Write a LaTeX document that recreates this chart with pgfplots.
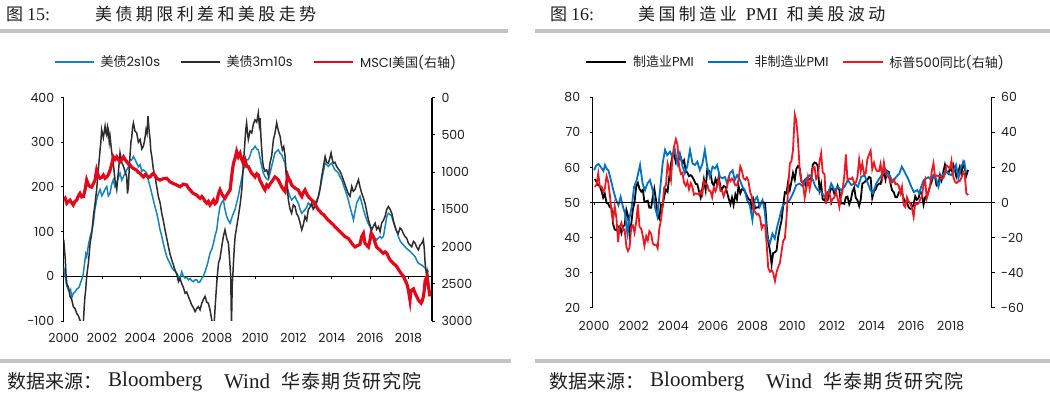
\documentclass[border=0pt]{standalone}
\usepackage{pgfplots}
\pgfplotsset{compat=1.18}
\usepackage{fontspec}
\setmainfont{Liberation Serif}
\newfontfamily\cjk{Noto Sans CJK SC}
\newfontfamily\gothic{Poppins}
\newcommand\ls{\hspace{3.4pt}}
\definecolor{lblue}{RGB}{22,132,185}
\definecolor{ldark}{RGB}{45,45,45}
\definecolor{lred}{RGB}{226,8,28}
\definecolor{rblue}{RGB}{0,112,192}
\definecolor{rred}{RGB}{235,25,35}
\definecolor{barg}{RGB}{195,195,195}
\definecolor{txt}{RGB}{30,30,30}
\pgfplotsset{
  base/.style={
    scale only axis, anchor=south west,
    tick label style={font=\gothic\fontsize{12.5}{14}\selectfont, text=txt},
    /pgf/number format/1000 sep={},
    /pgf/number format/assume math mode=true,
    major tick length=3pt,
    tick style={black, line width=0.9pt},
    axis line style={black, line width=1.1pt},
    xtick align=outside, ytick align=outside,
    hide obscured x ticks=false,
    legend columns=3,
    legend image code/.code={\draw[##1] (0pt,0pt) -- (39pt,0pt);},
    legend style={draw=none, fill=none, inner sep=0pt, anchor=west,
      font=\gothic\fontsize{13}{15}\selectfont, text=txt,
      nodes={inner sep=0pt},
      /tikz/every odd column/.append style={column sep=6pt},
      /tikz/every even column/.append style={column sep=20pt}},
  }
}
\begin{document}
\begin{tikzpicture}[x=1pt,y=1pt]
\path[use as bounding box] (0,0) rectangle (1050,399);
% rules
\fill[barg] (0,366) rectangle (508,370);
\fill[barg] (535,366) rectangle (1050,370);
\fill[barg] (0,36) rectangle (511,40);
\fill[barg] (535,36) rectangle (1050,40);
% titles
\node[anchor=west, inner sep=0, text=txt] at (6,385) {{\cjk\fontsize{17}{17}\selectfont 图}\hspace{4pt}{\fontsize{18}{18}\selectfont 15:}};
\node[anchor=west, inner sep=0, text=txt] at (95,385) {\cjk\fontsize{17}{17}\selectfont 美\ls 债\ls 期\ls 限\ls 利\ls 差\ls 和\ls 美\ls 股\ls 走\ls 势};
\node[anchor=west, inner sep=0, text=txt] at (550,385) {{\cjk\fontsize{17}{17}\selectfont 图}\hspace{4pt}{\fontsize{18}{18}\selectfont 16:}};
\node[anchor=west, inner sep=0, text=txt] at (638,385) {{\cjk\fontsize{17}{17}\selectfont 美\ls 国\ls 制\ls 造\ls 业}\hspace{9pt}{\fontsize{18}{18}\selectfont PMI}\hspace{9pt}{\cjk\fontsize{17}{17}\selectfont 和\ls 美\ls 股\ls 波\ls 动}};
% footers
\foreach \dx in {0,542}{
\node[anchor=west, inner sep=0, text=txt] at (7+\dx,18) {\cjk\fontsize{19}{19}\selectfont 数据来源：};
\node[anchor=west, inner sep=0, text=txt] at (108+\dx,18) {\fontsize{21}{20}\selectfont Bloomberg};
\node[anchor=west, inner sep=0, text=txt] at (224+\dx,18) {\fontsize{21}{20}\selectfont Wind};
\node[anchor=west, inner sep=0, text=txt] at (281+\dx,18) {\cjk\fontsize{19}{19}\selectfont 华\hspace{1.3pt}泰\hspace{1.3pt}期\hspace{1.3pt}货\hspace{1.3pt}研\hspace{1.3pt}究\hspace{1.3pt}院};
}

% ================= LEFT PANEL =================
\begin{axis}[base,
  at={(63.7pt,78pt)}, width=368.3pt, height=223.5pt,
  xmin=2000, xmax=2019.23, ymin=-100, ymax=400,
  axis y line*=left, axis x line*=middle,
  xtick={2000,2002,...,2018}, ytick={-100,0,...,400},
  x axis line style={line width=0.9pt},
  xticklabel style={anchor=center, yshift=-59pt},
  yticklabel style={xshift=-3pt},
  legend style={at={(-0.0263,1.1588)}},
]
\addplot[lblue, line width=1.5pt] coordinates {
(2000.00,20)(2000.08,0)(2000.15,-20)(2000.22,-28)(2000.30,-35)(2000.36,-30)(2000.42,-48)(2000.50,-38)(2000.60,-35)(2000.70,-28)(2000.80,-25)(2000.90,-12)
(2001.00,0)(2001.08,25)(2001.15,50)(2001.20,44)(2001.29,70)(2001.38,89)(2001.46,100)(2001.55,119)(2001.63,150)(2001.72,171)(2001.81,185)(2001.90,194)(2001.99,180)
(2002.07,186)(2002.16,195)(2002.25,201)(2002.33,180)(2002.42,186)(2002.50,205)(2002.59,216)(2002.68,200)(2002.77,208)(2002.85,220)(2002.94,231)
(2003.03,215)(2003.12,223)(2003.20,230)(2003.29,238)(2003.38,245)(2003.46,261)(2003.55,260)(2003.64,268)(2003.72,262)(2003.81,253)(2003.90,245)(2003.99,250)
(2004.08,235)(2004.16,238)(2004.25,235)(2004.33,231)(2004.42,215)(2004.51,201)(2004.60,185)(2004.68,171)(2004.77,155)(2004.86,141)(2004.94,125)
(2005.03,104)(2005.12,90)(2005.20,74)(2005.29,58)(2005.38,44)(2005.47,35)(2005.55,29)(2005.64,20)(2005.73,14)(2005.81,12)(2005.90,7)(2005.99,0)
(2006.07,-8)(2006.16,10)(2006.25,0)(2006.34,-4)(2006.42,-2)(2006.51,-8)(2006.60,-5)(2006.68,-10)(2006.77,-12)(2006.86,-8)(2006.95,-8)
(2007.03,-14)(2007.12,-12)(2007.21,-5)(2007.29,0)(2007.38,10)(2007.47,22)(2007.55,35)(2007.64,52)(2007.73,60)(2007.82,74)(2007.90,90)(2007.99,104)
(2008.08,135)(2008.16,156)(2008.25,165)(2008.34,171)(2008.42,150)(2008.51,134)(2008.60,125)(2008.69,119)(2008.77,130)(2008.86,141)(2008.95,150)
(2009.03,164)(2009.12,180)(2009.21,201)(2009.30,220)(2009.38,238)(2009.47,250)(2009.56,261)(2009.64,261)(2009.73,270)(2009.82,283)(2009.90,285)(2009.99,291)
(2010.08,285)(2010.16,283)(2010.25,265)(2010.34,246)(2010.42,232)(2010.51,223)(2010.60,218)(2010.69,216)(2010.77,230)(2010.86,246)(2010.95,262)
(2011.03,276)(2011.12,280)(2011.21,283)(2011.30,275)(2011.38,272)(2011.47,262)(2011.56,253)(2011.63,225)(2011.70,194)(2011.80,180)(2011.90,171)(2011.99,175)
(2012.08,179)(2012.16,170)(2012.25,164)(2012.34,150)(2012.43,141)(2012.51,145)(2012.60,149)(2012.69,155)(2012.77,164)(2012.86,160)(2012.95,156)
(2013.03,160)(2013.12,164)(2013.21,170)(2013.30,179)(2013.38,195)(2013.47,216)(2013.56,235)(2013.65,253)(2013.73,250)(2013.82,246)(2013.90,250)(2013.99,253)
(2014.08,245)(2014.16,238)(2014.25,235)(2014.34,231)(2014.43,222)(2014.52,216)(2014.60,205)(2014.69,194)(2014.78,182)(2014.86,171)(2014.95,155)
(2015.04,141)(2015.13,126)(2015.21,145)(2015.30,164)(2015.39,172)(2015.47,179)(2015.56,165)(2015.65,149)(2015.73,138)(2015.82,126)(2015.90,118)(2015.99,111)
(2016.08,100)(2016.17,89)(2016.26,85)(2016.34,81)(2016.43,86)(2016.52,89)(2016.60,85)(2016.69,89)(2016.78,110)(2016.87,134)(2016.95,141)
(2017.04,138)(2017.13,134)(2017.21,122)(2017.30,111)(2017.39,100)(2017.47,89)(2017.56,80)(2017.65,74)(2017.74,70)(2017.82,66)(2017.91,62)
(2018.00,59)(2018.08,56)(2018.17,52)(2018.26,48)(2018.35,44)(2018.43,36)(2018.52,29)(2018.61,27)(2018.70,25)(2018.78,22)(2018.87,18)(2018.95,14)(2019.04,10)
};
\addlegendentry{{\cjk 美债}2s10s}
\addplot[ldark, line width=1.5pt] coordinates {
(2000.00,82)(2000.04,60)(2000.08,40)(2000.12,5)(2000.16,-16)(2000.25,-25)(2000.33,-45)(2000.42,-52)(2000.50,-68)(2000.59,-72)(2000.68,-83)(2000.76,-88)(2000.85,-98)(2000.95,-110)
(2001.03,-100)(2001.07,-70)(2001.11,-45)(2001.15,-30)(2001.20,0)(2001.29,30)(2001.38,74)(2001.46,95)(2001.55,134)(2001.63,160)(2001.72,194)(2001.81,240)(2001.90,283)(2001.94,300)(2001.98,328)
(2002.07,310)(2002.16,336)(2002.21,320)(2002.25,315)(2002.29,335)(2002.33,328)(2002.38,300)(2002.42,313)(2002.50,280)(2002.59,253)(2002.68,215)(2002.77,194)(2002.81,215)(2002.85,231)(2002.90,255)(2002.94,276)
(2003.03,255)(2003.12,246)(2003.20,235)(2003.29,223)(2003.33,185)(2003.38,201)(2003.42,240)(2003.46,268)(2003.51,300)(2003.55,310)(2003.60,335)(2003.64,343)(2003.72,325)(2003.81,321)(2003.90,300)(2003.99,306)
(2004.08,285)(2004.16,291)(2004.23,305)(2004.30,328)(2004.35,320)(2004.40,358)(2004.45,330)(2004.51,306)(2004.55,280)(2004.60,268)(2004.68,240)(2004.77,223)(2004.86,200)(2004.94,179)
(2005.03,165)(2005.12,141)(2005.20,125)(2005.29,104)(2005.38,85)(2005.47,66)(2005.55,50)(2005.64,37)(2005.73,25)(2005.81,14)(2005.90,5)(2005.99,-12)
(2006.07,-5)(2006.16,-16)(2006.25,-25)(2006.34,-38)(2006.42,-35)(2006.51,-45)(2006.60,-55)(2006.68,-64)(2006.77,-70)(2006.86,-79)(2006.95,-72)
(2007.03,-68)(2007.12,-75)(2007.21,-60)(2007.29,-52)(2007.38,-45)(2007.47,-58)(2007.55,-60)(2007.64,-75)(2007.73,-98)(2007.79,-105)(2007.85,-110)(2007.92,-60)(2007.99,-16)
(2008.04,10)(2008.08,29)(2008.16,40)(2008.25,66)(2008.34,90)(2008.42,104)(2008.51,85)(2008.60,74)(2008.66,40)(2008.72,0)(2008.76,-110)(2008.80,-20)(2008.84,10)(2008.90,60)(2008.95,89)
(2009.03,110)(2009.12,134)(2009.21,160)(2009.30,194)(2009.38,250)(2009.47,306)(2009.51,330)(2009.55,343)(2009.60,320)(2009.64,306)(2009.73,325)(2009.82,321)(2009.90,340)(2009.99,350)
(2010.08,345)(2010.16,365)(2010.21,340)(2010.25,354)(2010.30,310)(2010.34,283)(2010.38,260)(2010.42,246)(2010.51,235)(2010.60,238)(2010.69,225)(2010.77,253)(2010.86,270)(2010.95,306)
(2011.03,320)(2011.12,343)(2011.21,325)(2011.30,313)(2011.36,295)(2011.42,283)(2011.49,290)(2011.56,268)(2011.60,240)(2011.64,216)(2011.69,190)(2011.73,171)(2011.82,150)(2011.90,141)(2011.99,160)
(2012.08,156)(2012.16,140)(2012.25,134)(2012.34,120)(2012.43,104)(2012.51,115)(2012.60,134)(2012.69,125)(2012.77,149)(2012.86,155)(2012.95,164)
(2013.03,150)(2013.12,156)(2013.21,165)(2013.30,179)(2013.38,195)(2013.47,223)(2013.56,245)(2013.65,268)(2013.73,255)(2013.82,253)(2013.90,265)(2013.96,276)
(2014.03,260)(2014.08,253)(2014.16,255)(2014.25,246)(2014.34,240)(2014.43,235)(2014.52,225)(2014.60,216)(2014.69,205)(2014.78,194)(2014.86,185)(2014.95,179)
(2015.04,201)(2015.12,190)(2015.21,194)(2015.30,205)(2015.39,216)(2015.47,200)(2015.56,186)(2015.65,175)(2015.73,164)(2015.82,145)(2015.91,126)(2015.99,115)
(2016.08,104)(2016.17,112)(2016.26,119)(2016.34,105)(2016.43,111)(2016.52,100)(2016.60,119)(2016.69,125)(2016.78,134)(2016.87,150)(2016.95,156)
(2017.04,150)(2017.13,141)(2017.21,125)(2017.30,111)(2017.39,100)(2017.47,96)(2017.56,108)(2017.65,104)(2017.74,95)(2017.82,89)(2017.91,85)
(2018.00,74)(2018.08,70)(2018.17,66)(2018.26,78)(2018.35,74)(2018.43,65)(2018.52,59)(2018.61,70)(2018.70,74)(2018.78,82)(2018.83,60)(2018.87,29)(2018.91,15)(2018.95,0)(2019.00,10)(2019.04,-16)
};
\addlegendentry{{\cjk 美债}3m10s}
\addlegendimage{lred, line width=2.4pt}
\addlegendentry{MSCI{\cjk 美国}({\cjk 右轴})}
\end{axis}
\begin{axis}[base,
  at={(63.7pt,78pt)}, width=368.3pt, height=223.5pt,
  xmin=2000, xmax=2019.23, ymin=0, ymax=3000, y dir=reverse,
  axis y line*=right, axis x line=none,
  ytick={0,500,...,3000},
  yticklabel style={xshift=3pt},
]
\addplot[lred, line width=3.2pt] coordinates {
(2000.00,1377)(2000.08,1353)(2000.16,1419)(2000.25,1395)(2000.33,1377)(2000.42,1413)(2000.50,1443)(2000.59,1395)(2000.68,1377)(2000.76,1323)(2000.85,1287)(2000.94,1335)
(2001.03,1329)(2001.12,1234)(2001.20,1108)(2001.29,1174)(2001.38,1198)(2001.46,1204)(2001.55,1156)(2001.63,1114)(2001.72,976)(2001.81,1054)(2001.90,1084)(2001.99,1072)
(2002.07,1042)(2002.16,1084)(2002.25,1066)(2002.33,1036)(2002.42,976)(2002.50,904)(2002.59,796)(2002.68,832)(2002.77,796)(2002.85,832)(2002.94,862)
(2003.03,832)(2003.12,796)(2003.20,832)(2003.29,862)(2003.38,892)(2003.46,904)(2003.55,934)(2003.64,952)(2003.72,964)(2003.81,976)(2003.90,1006)(2003.99,1018)
(2004.08,1048)(2004.16,1066)(2004.25,1036)(2004.33,1042)(2004.42,1072)(2004.51,1066)(2004.60,1036)(2004.68,1018)(2004.77,1048)(2004.86,1084)(2004.94,1096)
(2005.03,1108)(2005.20,1090)(2005.38,1084)(2005.55,1132)(2005.73,1156)(2005.90,1174)
(2006.07,1198)(2006.25,1162)(2006.42,1174)(2006.51,1216)(2006.60,1240)(2006.68,1264)(2006.77,1287)(2006.86,1299)(2006.95,1311)
(2007.03,1335)(2007.12,1353)(2007.21,1329)(2007.29,1353)(2007.38,1395)(2007.47,1419)(2007.55,1395)(2007.64,1443)(2007.73,1413)(2007.82,1377)(2007.90,1425)(2007.99,1401)
(2008.08,1293)(2008.16,1240)(2008.25,1293)(2008.34,1329)(2008.42,1353)(2008.51,1311)(2008.60,1275)(2008.69,1240)(2008.77,1054)(2008.86,886)(2008.95,814)
(2009.03,725)(2009.12,796)(2009.21,749)(2009.30,832)(2009.38,886)(2009.47,838)(2009.56,928)(2009.64,928)(2009.73,976)(2009.82,1018)(2009.90,1036)(2009.99,1066)
(2010.08,1024)(2010.16,1042)(2010.25,1114)(2010.34,1156)(2010.42,1204)(2010.51,1240)(2010.60,1174)(2010.69,1198)(2010.77,1162)(2010.86,1132)(2010.95,1096)
(2011.03,1066)(2011.12,1084)(2011.21,1108)(2011.30,1156)(2011.38,1198)(2011.47,1234)(2011.56,1263)(2011.64,1144)(2011.70,1054)(2011.76,1096)(2011.82,1114)(2011.90,1174)(2011.99,1198)
(2012.08,1216)(2012.16,1228)(2012.25,1240)(2012.34,1293)(2012.43,1329)(2012.51,1275)(2012.60,1240)(2012.69,1293)(2012.77,1329)(2012.86,1353)(2012.95,1377)
(2013.03,1395)(2013.12,1419)(2013.21,1473)(2013.30,1509)(2013.38,1527)(2013.47,1557)(2013.56,1569)(2013.65,1599)(2013.73,1623)(2013.82,1647)(2013.90,1665)(2013.99,1689)
(2014.08,1707)(2014.16,1736)(2014.25,1754)(2014.34,1778)(2014.43,1802)(2014.52,1826)(2014.60,1844)(2014.69,1868)(2014.78,1880)(2014.86,1892)(2014.95,1922)
(2015.04,1958)(2015.12,1982)(2015.21,2006)(2015.30,1994)(2015.39,1982)(2015.47,1970)(2015.56,1868)(2015.65,1826)(2015.73,1958)(2015.82,1982)(2015.91,2006)(2015.99,1922)
(2016.05,1826)(2016.12,1850)(2016.17,1868)(2016.26,1952)(2016.34,2006)(2016.43,2030)(2016.52,2048)(2016.60,2072)(2016.69,2090)(2016.78,2072)(2016.87,2090)(2016.95,2138)
(2017.04,2180)(2017.13,2203)(2017.21,2227)(2017.30,2245)(2017.39,2269)(2017.47,2305)(2017.56,2341)(2017.65,2371)(2017.74,2401)(2017.82,2449)(2017.91,2497)
(2018.00,2587)(2018.08,2718)(2018.12,2610)(2018.17,2587)(2018.26,2569)(2018.35,2628)(2018.43,2670)(2018.52,2718)(2018.60,2742)(2018.66,2760)(2018.72,2730)(2018.78,2670)(2018.83,2581)(2018.87,2461)(2018.92,2431)(2018.97,2401)(2019.04,2521)(2019.12,2670)
};
\end{axis}

% ================= RIGHT PANEL =================
\begin{axis}[base,
  at={(592.7pt,91.3pt)}, width=399pt, height=210.4pt,
  xmin=1999.93, xmax=2020.07, ymin=20, ymax=80,
  axis y line*=left, axis x line=none,
  ytick={20,30,...,80},
  yticklabel style={xshift=-6pt},
  legend style={at={(-0.0193,1.1678)},
    /tikz/every even column/.append style={column sep=13pt}},
  legend image code/.code={\draw[#1] (0pt,0pt) -- (40pt,0pt);},
]
\addplot[black, line width=1.8pt] coordinates {
(2000.04,56.7)(2000.13,55.8)(2000.21,54.9)(2000.29,54.7)(2000.38,53.2)(2000.46,51.4)(2000.54,52.5)(2000.63,49.9)(2000.71,49.7)(2000.79,48.7)(2000.88,48.5)(2000.96,43.9)
(2001.04,42.3)(2001.13,42.1)(2001.21,43.1)(2001.29,43.2)(2001.38,41.3)(2001.46,43.2)(2001.54,43.5)(2001.63,47.9)(2001.71,46.2)(2001.79,40.8)(2001.88,44.1)(2001.96,48.2)
(2002.04,49.9)(2002.13,54.7)(2002.21,55.6)(2002.29,53.9)(2002.38,53.1)(2002.46,53.6)(2002.54,50.2)(2002.63,50.3)(2002.71,50.5)(2002.79,48.5)(2002.88,48.5)(2002.96,51.6)
(2003.04,53.9)(2003.13,50.5)(2003.21,46.2)(2003.29,45.4)(2003.38,49.4)(2003.46,49.0)(2003.54,51.8)(2003.63,53.7)(2003.71,53.1)(2003.79,57.0)(2003.88,61.0)(2003.96,63.4)
(2004.04,63.6)(2004.13,61.4)(2004.21,62.5)(2004.29,62.4)(2004.38,62.8)(2004.46,61.1)(2004.54,62.0)(2004.63,59.0)(2004.71,58.5)(2004.79,57.5)(2004.88,57.8)(2004.96,57.3)
(2005.04,56.4)(2005.13,55.3)(2005.21,55.2)(2005.29,53.3)(2005.38,51.4)(2005.46,53.8)(2005.54,56.6)(2005.63,53.6)(2005.71,59.4)(2005.79,59.1)(2005.88,58.1)(2005.96,55.6)
(2006.04,54.8)(2006.13,56.7)(2006.21,55.2)(2006.29,57.3)(2006.38,54.4)(2006.46,53.8)(2006.54,54.7)(2006.63,54.5)(2006.71,52.9)(2006.79,51.2)(2006.88,49.5)(2006.96,51.4)
(2007.04,49.3)(2007.13,52.3)(2007.21,50.9)(2007.29,54.7)(2007.38,52.6)(2007.46,53.8)(2007.54,53.8)(2007.63,52.9)(2007.71,52.0)(2007.79,50.9)(2007.88,50.8)(2007.96,48.4)
(2008.04,50.7)(2008.13,48.3)(2008.21,48.6)(2008.29,48.6)(2008.38,49.6)(2008.46,50.2)(2008.54,50.0)(2008.63,49.9)(2008.71,43.5)(2008.79,38.9)(2008.88,36.2)(2008.96,32.4)
(2009.04,35.6)(2009.13,35.8)(2009.21,36.3)(2009.29,40.1)(2009.38,42.8)(2009.46,44.8)(2009.54,48.9)(2009.63,52.9)(2009.71,52.6)(2009.79,55.7)(2009.88,53.6)(2009.96,55.9)
(2010.04,58.4)(2010.13,56.5)(2010.21,59.6)(2010.29,60.4)(2010.38,59.7)(2010.46,56.2)(2010.54,55.5)(2010.63,56.3)(2010.71,54.4)(2010.79,56.9)(2010.88,56.6)(2010.96,57.0)
(2011.04,60.8)(2011.13,61.4)(2011.21,61.2)(2011.29,60.4)(2011.38,53.5)(2011.46,55.3)(2011.54,50.9)(2011.63,50.6)(2011.71,51.6)(2011.79,50.8)(2011.88,52.7)(2011.96,53.9)
(2012.04,54.1)(2012.13,52.4)(2012.21,53.4)(2012.29,54.8)(2012.38,53.5)(2012.46,49.7)(2012.54,49.8)(2012.63,49.6)(2012.71,51.5)(2012.79,51.7)(2012.88,49.5)(2012.96,50.7)
(2013.04,53.1)(2013.13,54.2)(2013.21,51.3)(2013.29,50.7)(2013.38,49.0)(2013.46,50.9)(2013.54,55.4)(2013.63,55.7)(2013.71,56.2)(2013.79,56.4)(2013.88,57.3)(2013.96,57.0)
(2014.04,51.3)(2014.13,53.2)(2014.21,53.7)(2014.29,54.9)(2014.38,55.4)(2014.46,55.3)(2014.54,57.1)(2014.63,59.0)(2014.71,56.6)(2014.79,59.0)(2014.88,58.7)(2014.96,55.5)
(2015.04,53.5)(2015.13,52.9)(2015.21,51.5)(2015.29,51.5)(2015.38,52.8)(2015.46,53.5)(2015.54,52.7)(2015.63,51.1)(2015.71,50.2)(2015.79,50.1)(2015.88,48.6)(2015.96,48.2)
(2016.04,48.2)(2016.13,49.5)(2016.21,51.8)(2016.29,50.8)(2016.38,51.3)(2016.46,53.2)(2016.54,52.6)(2016.63,49.4)(2016.71,51.5)(2016.79,51.9)(2016.88,53.2)(2016.96,54.7)
(2017.04,56.0)(2017.13,57.7)(2017.21,57.2)(2017.29,54.8)(2017.38,54.9)(2017.46,57.8)(2017.54,56.3)(2017.63,58.8)(2017.71,60.8)(2017.79,58.7)(2017.88,58.2)(2017.96,59.7)
(2018.04,59.1)(2018.13,60.8)(2018.21,59.3)(2018.29,57.3)(2018.38,58.7)(2018.46,60.2)(2018.54,58.1)(2018.63,61.3)(2018.71,59.8)(2018.79,57.7)(2018.88,59.3)
};
\addlegendentry{{\cjk 制造业}PMI}
\addplot[rblue, line width=1.8pt] coordinates {
(2000.00,59.2)(2000.10,60.5)(2000.22,61)(2000.35,60)(2000.47,59)(2000.55,60.7)(2000.65,59.5)(2000.72,59.2)(2000.81,57.3)(2000.89,55.4)(2000.97,53.5)
(2001.11,50.7)(2001.23,49.2)(2001.34,51.6)(2001.48,48.3)(2001.56,46.9)(2001.68,41.1)(2001.78,45.4)(2001.90,48.8)
(2002.02,54.5)(2002.15,56.4)(2002.32,60.7)(2002.45,55.4)(2002.57,53.5)(2002.69,55.4)(2002.82,56.4)(2002.96,53.5)
(2003.07,48.8)(2003.19,46.1)(2003.33,53.5)(2003.46,61.1)(2003.58,65)(2003.69,63.5)(2003.83,64.5)(2003.96,63)
(2004.08,65)(2004.20,61.1)(2004.33,64)(2004.47,60.2)(2004.58,58.3)(2004.70,60.2)(2004.84,65)(2004.97,61.1)
(2005.09,60.7)(2005.21,61.6)(2005.34,59.2)(2005.47,61.1)(2005.59,65)(2005.71,60.2)(2005.84,57.3)(2005.98,60.2)
(2006.10,59.7)(2006.21,60.7)(2006.35,57.3)(2006.48,56.9)(2006.60,57.3)(2006.72,55.4)(2006.85,58.3)(2006.99,59.2)
(2007.10,56.4)(2007.22,57.8)(2007.36,56.4)(2007.49,54.5)(2007.61,53.5)(2007.72,50.7)(2007.86,49.2)(2007.99,45)
(2008.11,50.7)(2008.23,51.6)(2008.36,48.8)(2008.50,50.7)(2008.61,47.8)(2008.73,40.2)(2008.87,38.3)
(2009.00,41.1)(2009.12,39.7)(2009.24,43)(2009.37,45.9)(2009.50,48.8)(2009.62,49.7)(2009.79,50.2)(2009.87,50.7)
(2010.04,52.6)(2010.21,55)(2010.38,55.4)(2010.55,54.5)(2010.71,56.9)(2010.88,57.8)(2011.05,56.4)(2011.17,54.5)(2011.30,53.5)(2011.47,53)(2011.64,51.6)(2011.81,52.6)(2011.97,55.4)
(2012.14,53.5)(2012.31,54.5)(2012.48,53.5)(2012.64,54.5)(2012.81,56.4)(2012.98,55)(2013.15,55.4)(2013.32,54.5)(2013.48,57.3)(2013.65,57.8)(2013.82,55.4)(2013.95,53.5)
(2014.07,52.6)(2014.24,55.4)(2014.41,56.9)(2014.58,58.3)(2014.74,59.2)(2014.91,57.8)(2015.08,55.9)(2015.25,57.3)(2015.41,58.3)(2015.53,60.2)(2015.67,58.8)(2015.84,56.9)
(2016.01,54.5)(2016.14,53)(2016.31,53.5)(2016.42,52.6)(2016.51,54.5)(2016.64,56.4)(2016.76,56.9)(2016.88,57.2)(2017.01,56.4)(2017.14,57.8)(2017.26,56.9)(2017.38,54.5)
(2017.51,57.3)(2017.65,58.3)(2017.76,59.2)(2017.88,58.3)(2018.02,57.8)(2018.15,58.8)(2018.27,60.7)(2018.39,56.9)(2018.52,60.2)(2018.62,61.1)(2018.69,61.6)(2018.77,58.3)
};
\addlegendentry{{\cjk 非制造业}PMI}
\addlegendimage{rred, line width=1.8pt}
\addlegendentry{{\cjk 标普}500{\cjk 同比}({\cjk 右轴})}
\end{axis}
\begin{axis}[base,
  at={(592.7pt,91.3pt)}, width=399pt, height=210.4pt,
  xmin=1999.93, xmax=2020.07, ymin=-60, ymax=60,
  axis y line*=right, axis x line*=middle,
  xtick={2000,2002,...,2018}, ytick={-60,-40,...,60},
  x axis line style={line width=0.9pt},
  xticklabel style={anchor=center, yshift=-120.5pt},
  yticklabel style={xshift=3pt},
]
\addplot[rred, line width=1.8pt] coordinates {
(2000.04,8.9)(2000.13,10.3)(2000.21,16.6)(2000.29,8.8)(2000.38,9.1)(2000.46,6.0)(2000.54,7.7)(2000.63,15.0)(2000.71,12.0)(2000.79,4.8)(2000.88,-5.3)(2000.96,-10.1)
(2001.04,-2.0)(2001.13,-9.2)(2001.21,-22.6)(2001.29,-14.0)(2001.38,-11.6)(2001.46,-15.9)(2001.54,-15.4)(2001.63,-25.3)(2001.71,-27.6)(2001.79,-25.8)(2001.88,-13.4)(2001.96,-13.0)
(2002.04,-17.3)(2002.13,-10.7)(2002.21,-1.1)(2002.29,-13.8)(2002.38,-15.0)(2002.46,-19.1)(2002.54,-24.7)(2002.63,-19.2)(2002.71,-21.7)(2002.79,-16.4)(2002.88,-17.8)(2002.96,-23.3)
(2003.04,-24.2)(2003.13,-24.0)(2003.21,-26.1)(2003.29,-14.9)(2003.38,-9.7)(2003.46,-1.5)(2003.54,8.6)(2003.63,10.0)(2003.71,22.2)(2003.79,18.6)(2003.88,13.0)(2003.96,26.4)
(2004.04,32.1)(2004.13,36.1)(2004.21,32.8)(2004.29,20.7)(2004.38,16.3)(2004.46,17.0)(2004.54,11.3)(2004.63,9.5)(2004.71,11.9)(2004.79,7.5)(2004.88,11.0)(2004.96,9.0)
(2005.04,4.4)(2005.13,5.2)(2005.21,4.9)(2005.29,4.5)(2005.38,6.3)(2005.46,4.4)(2005.54,12.0)(2005.63,10.5)(2005.71,10.2)(2005.79,6.8)(2005.88,6.4)(2005.96,3.0)
(2006.04,8.4)(2006.13,6.4)(2006.21,9.7)(2006.29,13.3)(2006.38,6.5)(2006.46,6.6)(2006.54,3.5)(2006.63,6.9)(2006.71,8.7)(2006.79,14.2)(2006.88,12.2)(2006.96,13.6)
(2007.04,12.3)(2007.13,9.8)(2007.21,9.7)(2007.29,13.0)(2007.38,20.6)(2007.46,18.3)(2007.54,13.9)(2007.63,13.0)(2007.71,14.3)(2007.79,12.4)(2007.88,5.7)(2007.96,3.5)
(2008.04,-4.1)(2008.13,-5.4)(2008.21,-6.9)(2008.29,-6.5)(2008.38,-8.6)(2008.46,-14.8)(2008.54,-12.9)(2008.63,-13.0)(2008.71,-23.7)(2008.79,-37.4)(2008.88,-39.5)(2008.96,-38.5)
(2009.04,-40.1)(2009.13,-44.8)(2009.21,-39.7)(2009.29,-37.0)(2009.38,-34.4)(2009.46,-28.2)(2009.54,-22.1)(2009.63,-20.4)(2009.71,-9.3)(2009.79,6.9)(2009.88,22.3)(2009.96,23.5)
(2010.04,30.0)(2010.13,50.2)(2010.21,46.5)(2010.29,36.0)(2010.38,18.5)(2010.46,12.2)(2010.54,11.7)(2010.63,2.7)(2010.71,7.9)(2010.79,14.2)(2010.88,7.8)(2010.96,12.8)
(2011.04,19.7)(2011.13,20.2)(2011.21,13.4)(2011.29,14.9)(2011.38,23.5)(2011.46,28.1)(2011.54,17.2)(2011.63,16.2)(2011.71,-0.9)(2011.79,5.9)(2011.88,5.6)(2011.96,0.0)
(2012.04,2.0)(2012.13,2.9)(2012.21,6.2)(2012.29,2.5)(2012.38,-2.6)(2012.46,3.1)(2012.54,6.7)(2012.63,15.4)(2012.71,27.4)(2012.79,12.7)(2012.88,13.6)(2012.96,13.4)
(2013.04,14.2)(2013.13,10.9)(2013.21,11.4)(2013.29,14.3)(2013.38,24.5)(2013.46,17.9)(2013.54,22.3)(2013.63,16.1)(2013.71,16.7)(2013.79,24.4)(2013.88,27.5)(2013.96,29.6)
(2014.04,19.0)(2014.13,22.7)(2014.21,19.3)(2014.29,17.9)(2014.38,18.0)(2014.46,22.0)(2014.54,14.5)(2014.63,22.7)(2014.71,17.2)(2014.79,14.9)(2014.88,14.5)(2014.96,11.4)
(2015.04,11.9)(2015.13,13.2)(2015.21,10.5)(2015.29,10.7)(2015.38,9.5)(2015.46,5.3)(2015.54,9.0)(2015.63,-1.5)(2015.71,-2.6)(2015.79,3.0)(2015.88,0.6)(2015.96,-0.7)
(2016.04,-2.8)(2016.13,-8.2)(2016.21,-0.4)(2016.29,-1.0)(2016.38,-0.5)(2016.46,1.7)(2016.54,3.3)(2016.63,10.1)(2016.71,12.9)(2016.79,2.3)(2016.88,5.7)(2016.96,9.5)
(2017.04,17.5)(2017.13,22.4)(2017.21,14.7)(2017.29,15.4)(2017.38,15.0)(2017.46,15.4)(2017.54,13.6)(2017.63,13.9)(2017.71,16.2)(2017.79,21.1)(2017.88,20.4)(2017.96,19.4)
(2018.04,23.9)(2018.13,14.8)(2018.21,11.8)(2018.29,11.1)(2018.38,12.1)(2018.46,12.2)(2018.54,14.0)(2018.63,17.4)(2018.71,15.7)(2018.79,5.3)(2018.88,4.2)
};
\end{axis}
\end{tikzpicture}
\end{document}
